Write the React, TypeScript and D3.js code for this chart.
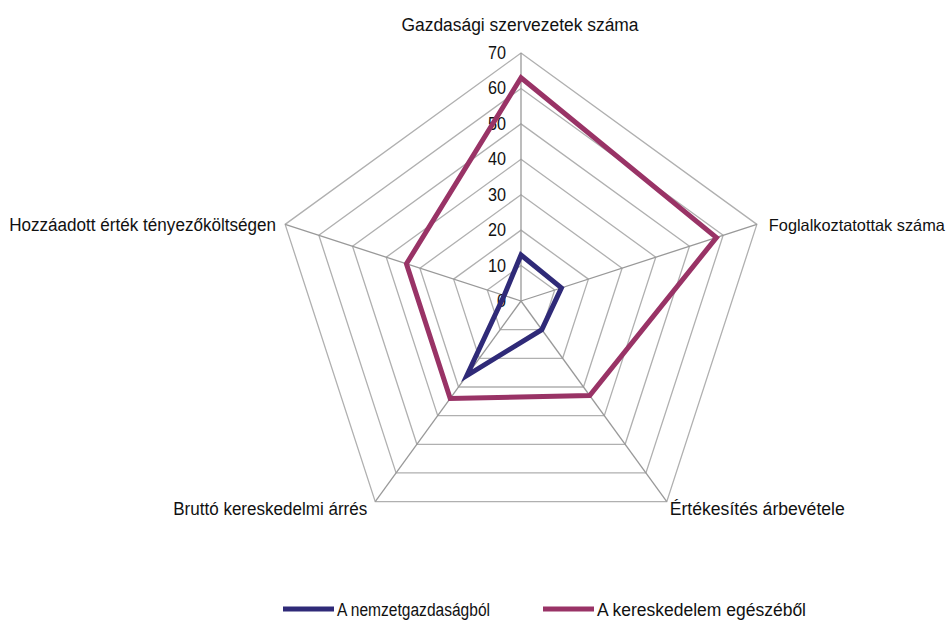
import React from "react";
import * as d3 from "d3";

const categories = [
  "Gazdasági szervezetek száma",
  "Foglalkoztatottak száma",
  "Értékesítés árbevétele",
  "Bruttó kereskedelmi árrés",
  "Hozzáadott érték tényezőköltségen",
];
const seriesNames = ["A nemzetgazdaságból", "A kereskedelem egészéből"];
const nemzetgazdasag = [13, 12, 10, 26, 5];
const kereskedelem = [63, 58, 33, 34, 34];
const ticks = [0, 10, 20, 30, 40, 50, 60, 70];
const colors = ["#2f2a78", "#993366"];

const W = 950, H = 620;
const cx = 521, cy = 301, R = 248;
const FONT = "'Liberation Sans', Arial, sans-serif";

// text widths (style) to mimic the condensed font of the reference
const catWidths = [237, 176, 175, 194, 267];
const catSizes = [18, 16.5, 18, 18, 18];
const legendWidths = [153, 209];

export default function App() {
  const r = d3.scaleLinear().domain([0, 70]).range([0, R]);
  const n = categories.length;
  const angle = (i: number) => (i * 2 * Math.PI) / n;
  const pt = (i: number, v: number): [number, number] => [
    cx + r(v) * Math.sin(angle(i)),
    cy - r(v) * Math.cos(angle(i)),
  ];
  const ring = (v: number) =>
    d3.range(n).map((i) => pt(i, v).join(",")).join(" ");
  const line = d3.line<number>().x((v, i) => pt(i, v)[0]).y((v, i) => pt(i, v)[1]).curve(d3.curveLinearClosed);
  const data = [nemzetgazdasag, kereskedelem];

  const labelPos = [
    { x: cx - 1, y: 31, anchor: "middle" },
    { x: pt(1, 70)[0] + 12, y: pt(1, 70)[1] + 7, anchor: "start" },
    { x: pt(2, 70)[0] + 3, y: pt(2, 70)[1] + 13, anchor: "start" },
    { x: pt(3, 70)[0] - 8, y: pt(3, 70)[1] + 13, anchor: "end" },
    { x: pt(4, 70)[0] - 9, y: pt(4, 70)[1] + 7, anchor: "end" },
  ];

  return (
    <svg width={W} height={H} style={{ position: "absolute", left: 0, top: 0, background: "#fff" }}>
      <g>
        {ticks.slice(1).map((t) => (
          <polygon key={t} points={ring(t)} fill="none" stroke="#b0b0b0" strokeWidth={1.3} />
        ))}
        {d3.range(n).map((i) => {
          const [x, y] = pt(i, 70);
          return <line key={i} x1={cx} y1={cy} x2={x} y2={y} stroke="#999" strokeWidth={1.3} />;
        })}
        {ticks.map((t) => (
          <text key={t} x={506} y={cy - r(t) + 6} textAnchor="end" fontFamily={FONT} fontSize={18} fill="#111" textLength={9 * String(t).length} lengthAdjust="spacingAndGlyphs">
            {t}
          </text>
        ))}
        {data.map((d, k) => (
          <path key={k} d={line(d) || ""} fill="none" stroke={colors[k]} strokeWidth={5} strokeLinejoin="miter" />
        ))}
        {categories.map((c, i) => (
          <text key={c} x={labelPos[i].x} y={labelPos[i].y} textAnchor={labelPos[i].anchor as any} fontFamily={FONT} fontSize={catSizes[i]} fill="#111" textLength={catWidths[i]} lengthAdjust="spacingAndGlyphs">
            {c}
          </text>
        ))}
        {seriesNames.map((s, k) => {
          const x0 = k === 0 ? 283 : 543;
          return (
            <g key={s}>
              <line x1={x0} x2={x0 + 51} y1={609} y2={609} stroke={colors[k]} strokeWidth={5} />
              <text x={x0 + 54} y={616} fontFamily={FONT} fontSize={18} fill="#111" textLength={legendWidths[k]} lengthAdjust="spacingAndGlyphs">
                {s}
              </text>
            </g>
          );
        })}
      </g>
    </svg>
  );
}
